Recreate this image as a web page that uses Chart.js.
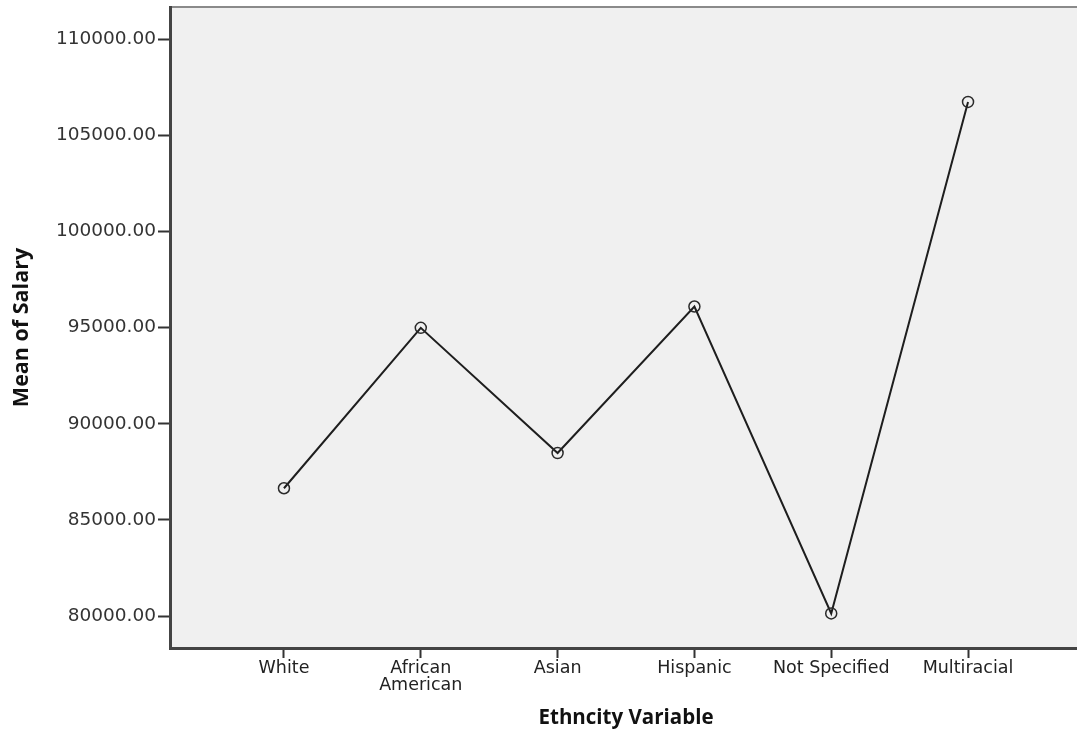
<!DOCTYPE html>
<html>
<head>
<meta charset="utf-8">
<script src="https://cdn.jsdelivr.net/npm/chart.js@4/dist/chart.umd.min.js"></script>
<style>
    html, body { margin: 0; padding: 0; background: #fff; overflow: hidden; }
    #wrap { width: 1077px; height: 733px; overflow: hidden; position: relative; }
    #box { width: 1090px; height: 733px; position: absolute; left: 0; top: 0; }
</style>
</head>
<body>
<div id="wrap"><div id="box"><canvas id="salaryChart"></canvas></div></div>
<script>
const categories = ['White', 'African American', 'Asian', 'Hispanic', 'Not Specified', 'Multiracial'];
const meanSalary = [86650, 94990, 88480, 96100, 80140, 106740];
const yTicks = [80000, 85000, 90000, 95000, 100000, 105000, 110000];

const tickFont = { family: 'DejaVu Sans', size: 18.5 };
const labelFont = { family: 'DejaVu Sans', size: 17.5, lineHeight: 0.98 };

// grey plot background plus the thin top frame line
const plotBackground = {
    id: 'plotBackground',
    beforeDraw(chart) {
        const { ctx, chartArea: a } = chart;
        ctx.save();
        ctx.fillStyle = '#f0f0f0';
        ctx.fillRect(a.left, a.top, a.right - a.left, a.bottom - a.top);
        ctx.strokeStyle = '#8a8a8a';
        ctx.lineWidth = 2;
        ctx.beginPath();
        ctx.moveTo(a.left, a.top);
        ctx.lineTo(a.right, a.top);
        ctx.stroke();
        ctx.restore();
    }
};

function noEdgePadding(scale) {
    scale.paddingTop = 0;
    scale.paddingBottom = 0;
    scale.paddingLeft = 0;
    scale.paddingRight = 0;
}

const ctx = document.getElementById('salaryChart').getContext('2d');
new Chart(ctx, {
    type: 'line',
    data: {
        datasets: [{
            data: categories.map((c, i) => ({ x: i, y: meanSalary[i] })),
            borderColor: '#1e1e1e',
            borderWidth: 2,
            pointRadius: 5.5,
            pointBorderWidth: 1.5,
            pointBorderColor: '#2a2a2a',
            pointBackgroundColor: 'rgba(0,0,0,0)',
            tension: 0
        }]
    },
    plugins: [plotBackground],
    options: {
        responsive: true,
        maintainAspectRatio: false,
        animation: false,
        layout: { padding: { top: 6, right: 8, bottom: 0, left: 0 } },
        plugins: {
            legend: { display: false },
            tooltip: { enabled: false }
        },
        scales: {
            x: {
                type: 'linear',
                min: -0.833,
                max: 5.833,
                afterBuildTicks: scale => {
                    scale.ticks = categories.map((c, i) => ({ value: i }));
                },
                afterFit: scale => {
                    scale.height = 85;
                    noEdgePadding(scale);
                },
                ticks: {
                    color: '#222',
                    font: labelFont,
                    padding: 2,
                    autoSkip: false,
                    maxRotation: 0,
                    callback: v => {
                        const name = categories[v];
                        return name === 'African American' ? ['African', 'American'] : name;
                    }
                },
                grid: { drawOnChartArea: false, tickLength: 10, tickColor: '#333', tickWidth: 2 },
                border: { color: '#444', width: 3 },
                title: {
                    display: true,
                    text: 'Ethncity Variable',
                    color: '#111',
                    font: { family: 'Open Sans', size: 20.5, weight: 'bold' },
                    padding: { top: 0, bottom: 3 }
                }
            },
            y: {
                min: 78342,
                max: 111675,
                afterBuildTicks: scale => {
                    scale.ticks = yTicks.map(v => ({ value: v }));
                },
                afterFit: scale => {
                    scale.width = 170;
                    noEdgePadding(scale);
                },
                ticks: {
                    color: '#333',
                    font: tickFont,
                    padding: 2,
                    callback: v => v.toFixed(2)
                },
                grid: { drawOnChartArea: false, tickLength: 12, tickColor: '#333', tickWidth: 2 },
                border: { color: '#444', width: 3 },
                title: {
                    display: true,
                    text: 'Mean of Salary',
                    color: '#111',
                    font: { family: 'Open Sans', size: 21.5, weight: 'bold' },
                    padding: { top: 9, bottom: 0 }
                }
            }
        }
    }
});
</script>
</body>
</html>
